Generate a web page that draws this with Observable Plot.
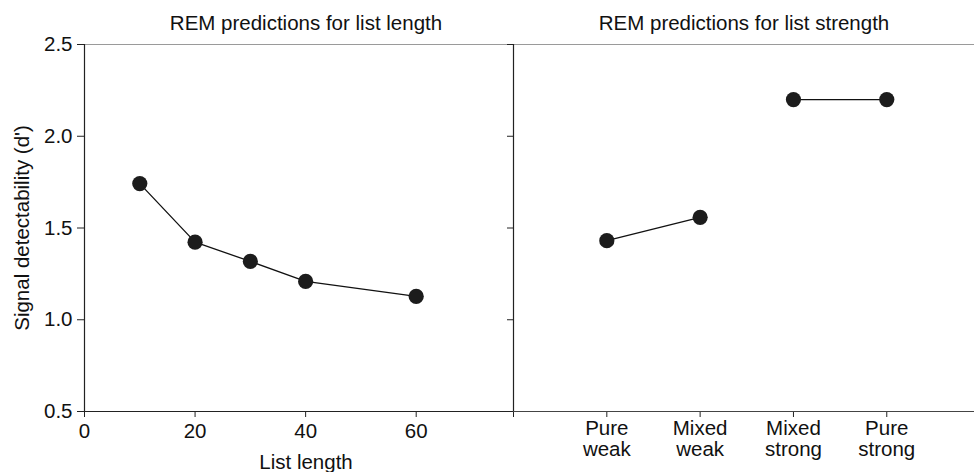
<!DOCTYPE html>
<html>
<head>
<meta charset="utf-8">
<script src="https://cdn.jsdelivr.net/npm/d3@7"></script>
<script src="https://cdn.jsdelivr.net/npm/@observablehq/plot@0.6"></script>
<style>
  html, body { margin: 0; padding: 0; background: #fff; }
  #wrap { position: relative; width: 974px; height: 472px; overflow: hidden; }
  #wrap svg { position: absolute; top: 0; overflow: visible; }
</style>
</head>
<body>
<div id="wrap"></div>
<script>
// ---- data ----
const listLengths = [10, 20, 30, 40, 60];
const lengthDprime = [1.742, 1.423, 1.318, 1.209, 1.127];

const strengthConditions = ["Pure\nweak", "Mixed\nweak", "Mixed\nstrong", "Pure\nstrong"];
const strengthDprime = [1.431, 1.558, 2.200, 2.200];
const strengthGroup = ["weak", "weak", "strong", "strong"];

const yTicks = [0.5, 1.0, 1.5, 2.0, 2.5];
const xLengthTicks = [0, 20, 40, 60];

const leftTitle = "REM predictions for list length";
const rightTitle = "REM predictions for list strength";
const xLabel = "List length";
const yLabel = "Signal detectability (d')";

// ---- build tables ----
const lengthData = listLengths.map((n, i) => ({n, d: lengthDprime[i]}));
const strengthData = strengthConditions.map((c, i) => ({pos: i + 1, c, d: strengthDprime[i], g: strengthGroup[i]}));

const FONT = "'Liberation Sans', Arial, Helvetica, sans-serif";
const FS = 20.5;
const H = 472, MT = 44, MB = 61;
const dotFill = "#1c1c1c";

const left = Plot.plot({
  width: 513, height: H,
  marginLeft: 84, marginRight: 0, marginTop: MT, marginBottom: MB,
  style: {fontFamily: FONT, fontSize: FS + "px", color: "#111", background: "transparent", overflow: "visible"},
  x: {domain: [0, 77.6]},
  y: {domain: [0.5, 2.5]},
  marks: [
    Plot.ruleY([2.5], {stroke: "#9a9a9a", strokeWidth: 1.2}),
    Plot.axisY({ticks: yTicks, tickFormat: d3.format(".1f"), tickSize: 7, tickPadding: 5, label: null, fontSize: FS, stroke: "#222"}),
    Plot.axisX({ticks: xLengthTicks, tickSize: 6, tickPadding: 6, label: null, fontSize: FS, stroke: "#222"}),
    Plot.ruleX([0], {stroke: "#222", strokeWidth: 1.2}),
    Plot.ruleY([0.5], {stroke: "#222", strokeWidth: 1.2}),
    Plot.line(lengthData, {x: "n", y: "d", stroke: "#111", strokeWidth: 1.3}),
    Plot.dot(lengthData, {x: "n", y: "d", r: 7.6, fill: dotFill, stroke: "none"}),
    Plot.text([leftTitle], {frameAnchor: "top", lineAnchor: "bottom", dy: -15, dx: 7, fontSize: FS, fill: "#111"}),
    Plot.text([xLabel], {frameAnchor: "bottom", lineAnchor: "bottom", dy: 57, dx: 7, fontSize: FS, fill: "#111"}),
    Plot.text([yLabel], {frameAnchor: "left", textAnchor: "middle", lineAnchor: "middle", rotate: -90, dx: -62, fontSize: FS, fill: "#111"})
  ]
});
left.style.left = "0px";

const right = Plot.plot({
  width: 467, height: H,
  marginLeft: 6, marginRight: 0, marginTop: MT, marginBottom: MB,
  style: {fontFamily: FONT, fontSize: FS + "px", color: "#111", background: "transparent", overflow: "visible"},
  x: {domain: [0, 4.94]},
  y: {domain: [0.5, 2.5]},
  marks: [
    Plot.ruleY([2.5], {stroke: "#9a9a9a", strokeWidth: 1.2}),
    Plot.axisY({ticks: yTicks, tickFormat: () => "", tickSize: 6, label: null, stroke: "#222"}),
    Plot.axisX({ticks: [0, 1, 2, 3, 4], tickFormat: (t) => t === 0 ? "" : strengthConditions[t - 1], tickSize: 6, tickPadding: 2, label: null, fontSize: FS, lineHeight: 1.05, stroke: "#222"}),
    Plot.ruleX([0], {stroke: "#222", strokeWidth: 1.2}),
    Plot.ruleY([0.5], {stroke: "#444", strokeWidth: 1.2}),
    Plot.line(strengthData, {x: "pos", y: "d", z: "g", stroke: "#111", strokeWidth: 1.3}),
    Plot.dot(strengthData, {x: "pos", y: "d", r: 7.6, fill: dotFill, stroke: "none"}),
    Plot.text([rightTitle], {frameAnchor: "top", lineAnchor: "bottom", dy: -15, fontSize: FS, fill: "#111"})
  ]
});
right.style.left = "507px";

document.getElementById("wrap").append(left, right);
</script>
</body>
</html>
